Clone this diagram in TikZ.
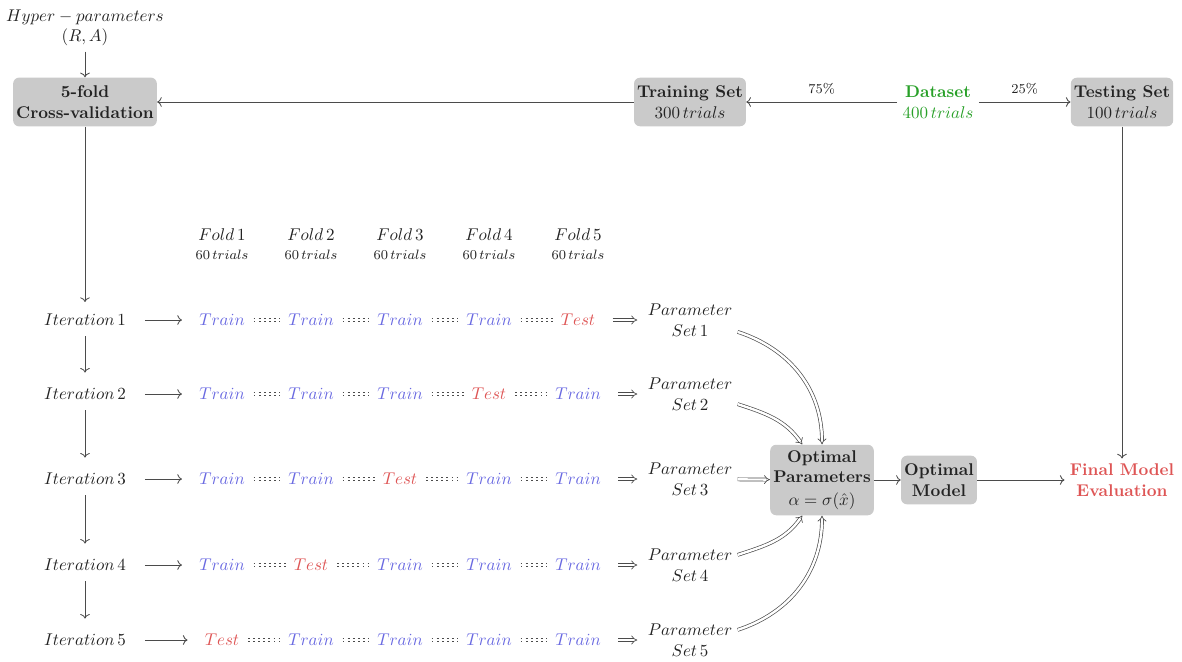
\documentclass[tikz,border=0pt]{standalone}
\usetikzlibrary{arrows.meta}
\definecolor{boxgray}{RGB}{202,202,202}
\definecolor{linegray}{RGB}{75,75,75}
\definecolor{txtgray}{RGB}{35,35,35}
\definecolor{tblue}{RGB}{105,105,225}
\definecolor{tred}{RGB}{222,85,85}
\definecolor{dgreen}{RGB}{40,160,40}
\begin{document}
\begin{tikzpicture}[x=0.5882pt,y=-0.5882pt,
  every node/.style={text=txtgray},
  box/.style={fill=boxgray, rounded corners=3.5pt, align=center, font=\bfseries, inner xsep=1.8pt, inner ysep=4.8pt},
  plain/.style={align=center, inner sep=3pt},
  trn/.style={inner sep=3pt, text=tblue},
  tst/.style={inner sep=3pt, text=tred},
  arr/.style={draw=linegray, line width=0.5pt, ->},
  vstep/.style={arr, shorten <=3pt, shorten >=6pt},
  hstep/.style={arr, shorten <=8pt, shorten >=7pt},
  dbl/.style={draw=linegray, line width=0.4pt, double, double distance=1.4pt, -{Implies}},
  dotsep/.style={draw=linegray, line width=0.55pt, double, double distance=1pt, dash pattern=on 1.1pt off 1.9pt, shorten <=2pt, shorten >=1.5pt},
  impl/.style={dbl, shorten <=7pt, shorten >=3pt}
]
\useasboundingbox (0,0) rectangle (1182,662);

% top row
\node[plain] (hp) at (85,28) {$Hyper-parameters$\\$(R,A)$};
\node[box] (cv) at (85,102) {5-fold\\Cross-validation};
\node[box] (ts) at (690,102) {Training Set\\$300\,trials$};
\node[plain, text=dgreen, font=\bfseries] (ds) at (938,102) {Dataset\\$400\,trials$};
\node[box] (tt) at (1122,102) {Testing Set\\$100\,trials$};

\draw[arr] (hp) -- (cv);
\draw[arr] (ts) -- (cv);
\draw[arr] (ds) -- node[above=1pt, font=\footnotesize]{75\%} (ts);
\draw[arr] (ds) -- node[above=1pt, font=\footnotesize]{25\%} (tt);

% fold headers
\foreach \k/\x in {1/222,2/311,3/400,4/489,5/578}{
  \node[plain] (f\k) at (\x,244) {$Fold\,\k$\\[-1pt]{\footnotesize$60\,trials$}};
}

% iterations
\foreach \k/\y in {1/320,2/394,3/479,4/565,5/640}{
  \node[plain] (i\k) at (85,\y) {$Iteration\,\k$};
  \node[plain] (p\k) at (690,\y) {$Parameter$\\$Set\,\k$};
}

% fold cells
\foreach \r/\y/\t in {1/320/5,2/394/4,3/479/3,4/565/2,5/640/1}{
  \foreach \c/\x in {1/222,2/311,3/400,4/489,5/578}{
    \ifnum\c=\t
      \node[tst] (c\r\c) at (\x,\y) {$Test$};
    \else
      \node[trn] (c\r\c) at (\x,\y) {$Train$};
    \fi
  }
  \draw[hstep] (i\r) -- (c\r1);
  \draw[dotsep] (c\r1) -- (c\r2);
  \draw[dotsep] (c\r2) -- (c\r3);
  \draw[dotsep] (c\r3) -- (c\r4);
  \draw[dotsep] (c\r4) -- (c\r5);
  \draw[impl] (c\r5) -- (p\r);
}

\draw[arr, shorten >=4pt] (cv) -- (i1);
\draw[vstep] (i1) -- (i2);
\draw[vstep] (i2) -- (i3);
\draw[vstep] (i3) -- (i4);
\draw[vstep] (i4) -- (i5);

% optimal
\node[box, inner ysep=3.5pt] (op) at (822,480) {Optimal\\Parameters\\[1pt]$\alpha=\sigma(\hat{x})$};
\node[box] (om) at (939,480) {Optimal\\Model};
\node[plain, text=tred, font=\bfseries] (fe) at (1122,480) {Final Model\\Evaluation};

\draw[dbl] (p1.-14) to[out=-18, in=90] (op.north);
\draw[dbl] (p2.-12) to[out=-18, in=125] (op.119);
\draw[dbl] (p3) -- (op);
\draw[dbl] (p4.12) to[out=18, in=-125] (op.-119);
\draw[dbl] (p5.12) to[out=18, in=-90] (op.south);

\draw[arr] (op) -- (om);
\draw[arr] (om) -- (fe);
\draw[arr] (tt) -- (fe);
\end{tikzpicture}
\end{document}
